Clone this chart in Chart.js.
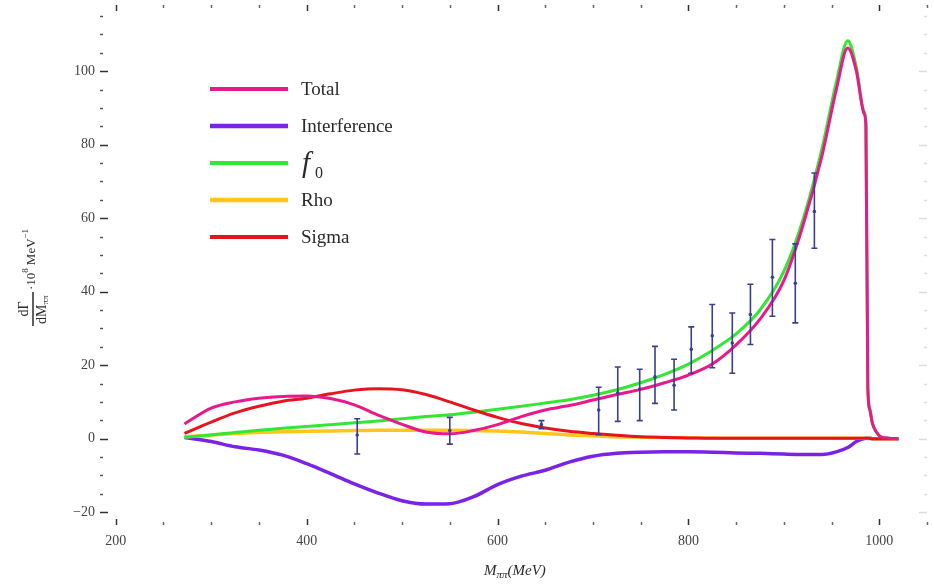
<!DOCTYPE html>
<html>
<head>
<meta charset="utf-8">
<script src="https://cdn.jsdelivr.net/npm/chart.js@4.4.1/dist/chart.umd.min.js"></script>
<style>
  html, body { margin: 0; padding: 0; background: #fff; }
  #wrap { width: 934px; height: 587px; position: relative; }
</style>
</head>
<body>
<div id="wrap"><canvas id="chart"></canvas></div>
<script>
// M_pipi sample points (MeV), shared by all curves
const massGrid = [272, 300, 325, 350, 375, 400, 425, 450, 475, 500, 525, 550, 575, 600, 625, 650, 675, 700, 725, 750,
                  775, 800, 825, 850, 875, 900, 920, 940, 955, 967, 976, 984, 986, 988, 990, 993, 997, 1001, 1010, 1020];

const totalVals = [4.0, 8.3, 10.0, 11.0, 11.5, 11.6, 10.9, 9.2, 6.4, 3.9, 1.8, 1.3, 2.2, 3.8, 6.0, 7.8, 9.0, 10.5, 12.0, 13.4,
                   15.2, 17.3, 20.3, 25.5, 32.5, 43, 58, 77, 95, 106.3, 100, 88.5, 85, 14, 8, 4, 1.8, 0.6, 0.1, 0];
const interferenceVals = [0.3, -0.8, -2.2, -3.1, -4.5, -6.8, -9.5, -12.3, -14.8, -16.9, -17.8, -17.7, -15.8, -12.5, -10.2, -8.6, -6.4, -4.8, -4.0, -3.7,
                          -3.6, -3.6, -3.7, -3.9, -4.0, -4.2, -4.3, -4.3, -3.6, -2.4, -0.8, 0, 0.1, 0.1, 0.1, 0, 0, 0, 0, 0];
const f0Vals = [0.4, 1.0, 1.7, 2.3, 2.8, 3.3, 3.8, 4.3, 4.8, 5.4, 6.0, 6.5, 7.2, 8.0, 8.8, 9.7, 10.6, 11.8, 13.3, 15.2,
                17.5, 20.3, 24.0, 28.5, 35, 45.5, 59.5, 79, 97, 108.3, 101, 89, 86, 14, 8, 4, 1.8, 0.6, 0.1, 0];
const rhoVals = [0.5, 1.0, 1.4, 1.7, 1.9, 2.0, 2.1, 2.2, 2.3, 2.3, 2.3, 2.3, 2.2, 2.1, 1.8, 1.4, 1.0, 0.8, 0.5, 0.4,
                 0.3, 0.2, 0.15, 0.1, 0.1, 0.1, 0.1, 0.1, 0.1, 0.1, 0.1, 0.1, 0.1, 0.1, 0.05, 0, 0, 0, 0, 0];
const sigmaVals = [1.4, 4.5, 7.0, 8.8, 10.2, 11.0, 12.2, 13.2, 13.6, 13.3, 12.0, 10.0, 7.8, 5.8, 4.1, 2.9, 2.0, 1.4, 0.9, 0.5,
                   0.3, 0.2, 0.1, 0.1, 0.1, 0.1, 0.1, 0.1, 0.1, 0.1, 0.1, 0.1, 0.1, 0.1, 0.05, 0, 0, 0, 0, 0];

// experimental points with error bars
const expMass = [453, 550, 646, 706, 726, 749, 765, 785, 803, 825, 846, 865, 888, 912, 932];
const expVal  = [1.0, 2.2, 3.8, 7.8, 12.5, 13.5, 16.8, 14.5, 24.3, 28.0, 26.0, 33.8, 43.9, 42.3, 61.8];
const expLow  = [-4.2, -1.5, 2.7, 1.1, 4.7, 4.9, 9.6, 7.8, 17.8, 19.3, 17.8, 25.6, 33.3, 31.5, 51.8];
const expHigh = [5.4, 5.8, 4.9, 14.0, 19.5, 18.9, 25.1, 21.6, 30.4, 36.5, 34.2, 42.0, 54.2, 53.0, 72.3];

const xTicks = [200, 400, 600, 800, 1000];
const yTicks = [-20, 0, 20, 40, 60, 80, 100];

const seriesNames = ['Total', 'Interference', 'f0', 'Rho', 'Sigma'];
const seriesColors = ['#E8198B', '#7A22E6', '#33E633', '#FFC61A', '#E6141E'];

const toPoints = vals => vals.map((v, i) => ({ x: massGrid[i], y: v }));

// inward frame ticks, like the original plot
const frameTicks = {
    id: 'frameTicks',
    beforeDatasetsDraw(chart) {
        const { ctx, chartArea: a, scales: { x, y } } = chart;
        ctx.save();
        for (let m = 200; m <= 1050; m += 50) {
            const px = Math.round(x.getPixelForValue(m)) + 0.5;
            const major = m % 200 === 0;
            ctx.strokeStyle = major ? '#333' : '#666';
            ctx.lineWidth = 1.5;
            const len = major ? 6 : 3;
            ctx.beginPath();
            ctx.moveTo(px, a.bottom); ctx.lineTo(px, a.bottom - len);
            ctx.moveTo(px, a.top); ctx.lineTo(px, a.top + len);
            ctx.stroke();
        }
        for (let v = -20; v <= 115; v += 5) {
            const py = Math.round(y.getPixelForValue(v)) + 0.5;
            const major = v % 20 === 0;
            ctx.lineWidth = 1.5;
            ctx.strokeStyle = major ? '#333' : '#555';
            ctx.beginPath();
            ctx.moveTo(a.left, py); ctx.lineTo(a.left + (major ? 8 : 3), py);
            ctx.stroke();
            ctx.strokeStyle = '#ddd';
            ctx.beginPath();
            ctx.moveTo(a.right, py); ctx.lineTo(a.right - (major ? 8 : 3), py);
            ctx.stroke();
        }
        ctx.restore();
    }
};

const errorBars = {
    id: 'errorBars',
    afterDatasetsDraw(chart) {
        const { ctx, scales: { x, y } } = chart;
        ctx.save();
        ctx.strokeStyle = '#3b3f8f';
        ctx.fillStyle = '#3b3f8f';
        ctx.lineWidth = 1.6;
        expMass.forEach((m, i) => {
            const px = x.getPixelForValue(m);
            const top = y.getPixelForValue(expHigh[i]);
            const bot = y.getPixelForValue(expLow[i]);
            ctx.beginPath();
            ctx.moveTo(px, top); ctx.lineTo(px, bot);
            ctx.moveTo(px - 3, top); ctx.lineTo(px + 3, top);
            ctx.moveTo(px - 3, bot); ctx.lineTo(px + 3, bot);
            ctx.stroke();
            ctx.beginPath();
            ctx.arc(px, y.getPixelForValue(expVal[i]), 1.8, 0, Math.PI * 2);
            ctx.fill();
        });
        ctx.restore();
    }
};

const legendBox = {
    id: 'legendBox',
    afterDraw(chart) {
        const ctx = chart.ctx;
        ctx.save();
        chart.data.datasets.forEach((ds, i) => {
            const yy = 89 + i * 37;
            ctx.strokeStyle = ds.borderColor;
            ctx.lineWidth = ds.borderWidth + 1;
            ctx.beginPath();
            ctx.moveTo(210, yy); ctx.lineTo(288, yy);
            ctx.stroke();
            ctx.fillStyle = '#2a2a2a';
            ctx.textBaseline = 'alphabetic';
            if (ds.label === 'f0') {
                ctx.font = 'italic 29px "Liberation Serif"';
                ctx.fillText('f', 302, yy + 9);
                ctx.font = '16px "Liberation Serif"';
                ctx.fillText('0', 315, yy + 15);
            } else {
                ctx.font = '19px "Liberation Serif"';
                ctx.fillText(ds.label, 301, yy + 6);
            }
        });
        ctx.restore();
    }
};

const axisTitles = {
    id: 'axisTitles',
    afterDraw(chart) {
        const ctx = chart.ctx;
        ctx.save();
        ctx.fillStyle = '#2a2a2a';
        ctx.textBaseline = 'alphabetic';
        // x title
        let px = 484;
        const base = 575;
        ctx.font = 'italic 15px "Liberation Serif"';
        ctx.fillText('M', px, base); px += ctx.measureText('M').width;
        ctx.font = 'italic 11px "Liberation Serif"';
        ctx.fillText('ππ', px, base + 3); px += ctx.measureText('ππ').width;
        ctx.font = 'italic 15px "Liberation Serif"';
        ctx.fillText('(MeV)', px, base);

        // y title, rotated
        ctx.translate(33, 309);
        ctx.rotate(-Math.PI / 2);
        ctx.textAlign = 'center';
        ctx.font = '14px "Liberation Serif"';
        ctx.fillText('dΓ', 0, -5);
        ctx.lineWidth = 1.5;
        ctx.strokeStyle = '#2a2a2a';
        ctx.beginPath();
        ctx.moveTo(-17, 0); ctx.lineTo(17, 0);
        ctx.stroke();
        ctx.textAlign = 'left';
        ctx.font = '14px "Liberation Serif"';
        let tx = -15;
        ctx.fillText('dM', tx, 13); tx += ctx.measureText('dM').width;
        ctx.font = '9px "Liberation Serif"';
        ctx.fillText('ππ', tx, 15);
        tx = 19;
        ctx.font = '13px "Liberation Serif"';
        ctx.fillText('·10', tx, 2); tx += ctx.measureText('·10').width;
        ctx.font = '9px "Liberation Serif"';
        ctx.fillText('8', tx, -5); tx += ctx.measureText('8').width + 3;
        ctx.font = '13px "Liberation Serif"';
        ctx.fillText('MeV', tx, 2); tx += ctx.measureText('MeV').width;
        ctx.font = '9px "Liberation Serif"';
        ctx.fillText('−1', tx, -5);
        ctx.restore();
    }
};

const tickFont = { family: 'Liberation Serif', size: 14 };

new Chart(document.getElementById('chart'), {
    type: 'line',
    data: {
        datasets: [
            { label: seriesNames[0], data: toPoints(totalVals), borderColor: seriesColors[0], borderWidth: 3, order: 0 },
            { label: seriesNames[1], data: toPoints(interferenceVals), borderColor: seriesColors[1], borderWidth: 3.5, order: 4 },
            { label: seriesNames[2], data: toPoints(f0Vals), borderColor: seriesColors[2], borderWidth: 3, order: 2 },
            { label: seriesNames[3], data: toPoints(rhoVals), borderColor: seriesColors[3], borderWidth: 3.5, order: 3 },
            { label: seriesNames[4], data: toPoints(sigmaVals), borderColor: seriesColors[4], borderWidth: 3, order: 1 }
        ].map(ds => Object.assign(ds, {
            pointRadius: 0,
            fill: false,
            cubicInterpolationMode: 'monotone'
        }))
    },
    options: {
        responsive: true,
        maintainAspectRatio: false,
        animation: false,
        layout: { padding: { top: 5, right: 7, left: 0, bottom: 0 } },
        plugins: {
            legend: { display: false },
            tooltip: { enabled: false }
        },
        scales: {
            x: {
                type: 'linear',
                min: 183.5,
                max: 1050,
                afterFit: s => { s.height = 62; s.paddingLeft = 0; s.paddingRight = 0; },
                afterBuildTicks: s => { s.ticks = xTicks.map(v => ({ value: v })); },
                grid: { display: false, drawTicks: false },
                border: { display: false },
                ticks: { padding: 8, color: '#444', font: tickFont, maxRotation: 0, autoSkip: false, callback: v => String(v) }
            },
            y: {
                min: -23.5,
                max: 118,
                afterFit: s => { s.width = 100; s.paddingTop = 0; s.paddingBottom = 0; },
                afterBuildTicks: s => { s.ticks = yTicks.map(v => ({ value: v })); },
                grid: { display: false, drawTicks: false },
                border: { display: false },
                ticks: {
                    padding: 5, color: '#444', font: tickFont, autoSkip: false,
                    callback: v => v < 0 ? '−' + Math.abs(v) : String(v)
                }
            }
        }
    },
    plugins: [frameTicks, errorBars, legendBox, axisTitles]
});
</script>
</body>
</html>
